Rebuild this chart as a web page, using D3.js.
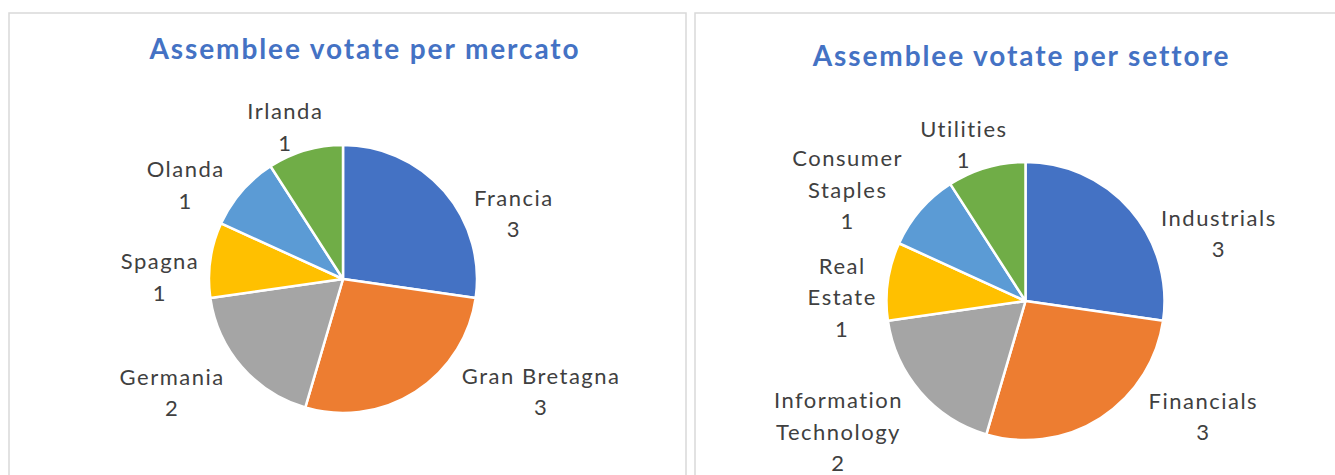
<!DOCTYPE html>
<html>
<head>
<meta charset="utf-8">
<script src="https://cdn.jsdelivr.net/npm/d3@7"></script>
<style>
  body { margin: 0; background: #fff; }
  svg { display: block; }
</style>
</head>
<body>
<div id="chart"></div>
<script>
// data
const mercatoTitle = "Assemblee votate per mercato";
const mercatoNames = [["Francia"], ["Gran Bretagna"], ["Germania"], ["Spagna"], ["Olanda"], ["Irlanda"]];
const mercatoValues = [3, 3, 2, 1, 1, 1];

const settoreTitle = "Assemblee votate per settore";
const settoreNames = [["Industrials"], ["Financials"], ["Information", "Technology"], ["Real", "Estate"], ["Consumer", "Staples"], ["Utilities"]];
const settoreValues = [3, 3, 2, 1, 1, 1];

const sliceColors = ["#4472C4", "#ED7D31", "#A5A5A5", "#FFC000", "#5B9BD5", "#70AD47"];

const W = 1335, H = 475;
const FONT = "Lato, 'Open Sans', sans-serif";

const svg = d3.select("#chart")
    .append("svg")
    .attr("width", W)
    .attr("height", H);

// panel frames
svg.append("rect")
    .attr("x", 9).attr("y", 13)
    .attr("width", 677).attr("height", 480)
    .attr("fill", "#fff")
    .attr("stroke", "#d9d9d9")
    .attr("stroke-width", 1.5);
svg.append("rect")
    .attr("x", 695).attr("y", 13)
    .attr("width", 680).attr("height", 480)
    .attr("fill", "#fff")
    .attr("stroke", "#d9d9d9")
    .attr("stroke-width", 1.5);

function drawPie(opts) {
    const { title, names, values, cx, cy, r, titleX, titleY } = opts;
    const data = names.map((n, i) => ({ name: n, value: values[i], color: sliceColors[i] }));

    svg.append("text")
        .attr("x", titleX)
        .attr("y", titleY)
        .attr("text-anchor", "middle")
        .attr("font-family", FONT)
        .attr("font-weight", "bold")
        .attr("font-size", 28)
        .attr("letter-spacing", 1.9)
        .attr("fill", "#4472C4")
        .text(title);

    const g = svg.append("g").attr("transform", `translate(${cx},${cy})`);

    const pie = d3.pie().sort(null).value(d => d.value);
    const arc = d3.arc().innerRadius(0).outerRadius(r);
    const arcs = pie(data);

    g.selectAll("path")
        .data(arcs)
        .join("path")
        .attr("d", arc)
        .attr("fill", d => d.data.color)
        .attr("stroke", "#fff")
        .attr("stroke-width", 2.5)
        .attr("stroke-linejoin", "round");

    // labels: name lines + value, placed outside the slice
    const fs = 22, lineH = 31.5, capH = fs * 0.72, drop = 10;
    const clamp = v => Math.max(-1, Math.min(1, v));
    arcs.forEach(d => {
        let mid = (d.startAngle + d.endAngle) / 2;
        // pull labels toward the horizontal, as excel's best fit does
        const side = mid < Math.PI ? Math.PI / 2 : Math.PI * 1.5;
        const dev = Math.abs(mid - side);
        if (dev < Math.PI / 12) mid += 0.55 * (side - mid);
        else if (dev < Math.PI / 3) mid += (mid < Math.PI ? 0.4 : 0.15) * (side - mid);
        const ux = Math.sin(mid), uy = -Math.cos(mid);

        const lines = d.data.name.concat([String(d.data.value)]);
        const t = g.append("text")
            .attr("font-family", FONT)
            .attr("font-size", fs)
            .attr("letter-spacing", 1.5)
            .attr("fill", "#404040")
            .attr("text-anchor", "middle");
        lines.forEach((s, i) => {
            t.append("tspan").attr("x", 0).attr("y", i * lineH).text(s);
        });
        // glyph box: cap top of first line to baseline of last line
        const w = t.node().getBBox().width;
        const top = -capH, bottom = (lines.length - 1) * lineH;
        const h = bottom - top;
        const px = ux * (r + 10) + (w / 2) * clamp(ux * 1.6);
        const py = uy * (r + 10) + (h / 2) * clamp(uy * 1.6) + drop;
        t.attr("transform", `translate(${px},${py - (top + h / 2)})`);
    });
}

drawPie({
    title: mercatoTitle, names: mercatoNames, values: mercatoValues,
    cx: 343, cy: 279, r: 134, titleX: 365, titleY: 59
});
drawPie({
    title: settoreTitle, names: settoreNames, values: settoreValues,
    cx: 1025.5, cy: 301, r: 139, titleX: 1021.5, titleY: 66
});
</script>
</body>
</html>
